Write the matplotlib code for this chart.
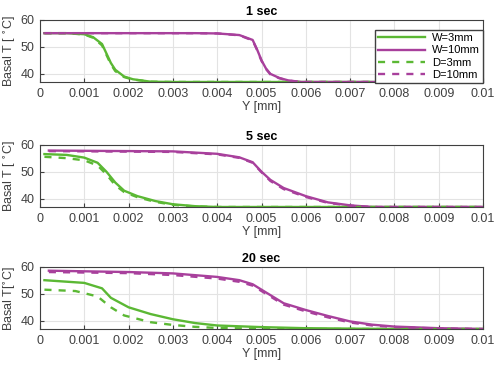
import matplotlib

matplotlib.use("Agg")
import matplotlib.pyplot as plt

plt.rcParams["font.family"] = ["Liberation Sans", "DejaVu Sans"]

GREEN = "#5bb834"
MAGENTA = "#a8409c"

# 1 sec
y_1s_w3 = [0.0001, 0.0006, 0.001, 0.0012, 0.0014, 0.0015, 0.0016, 0.0017, 0.0019, 0.0021, 0.0025, 0.003, 0.01]
t_1s_w3 = [55.0, 55.0, 54.6, 53.5, 51.0, 47.5, 44.0, 41.5, 39.0, 38.0, 37.1, 37.0, 37.0]
y_1s_d3 = [0.0001, 0.0006, 0.001, 0.0012, 0.0014, 0.0015, 0.0016, 0.0017, 0.0019, 0.0021, 0.0025, 0.003, 0.01]
t_1s_d3 = [55.0, 55.0, 54.5, 53.3, 50.5, 47.0, 43.5, 41.0, 38.8, 37.9, 37.1, 37.0, 37.0]
y_1s_w10 = [0.0001, 0.0035, 0.004, 0.0045, 0.0048, 0.0049, 0.005, 0.0051, 0.0052, 0.0054, 0.0056, 0.0059, 0.01]
t_1s_w10 = [55.0, 55.0, 54.9, 54.3, 52.5, 49.0, 45.0, 42.0, 40.0, 38.5, 37.6, 37.0, 37.0]
y_1s_d10 = [0.0001, 0.0035, 0.004, 0.0045, 0.0048, 0.0049, 0.005, 0.0051, 0.0052, 0.0054, 0.0056, 0.0059, 0.01]
t_1s_d10 = [55.0, 55.0, 54.9, 54.2, 52.3, 48.8, 44.8, 41.8, 39.8, 38.4, 37.5, 37.0, 37.0]

# 5 sec
y_5s_w3 = [0.0001, 0.0006, 0.001, 0.0013, 0.0015, 0.0017, 0.0019, 0.0022, 0.0026, 0.003, 0.0035, 0.004, 0.01]
t_5s_w3 = [56.5, 56.2, 55.2, 53.3, 50.0, 46.0, 43.0, 41.0, 39.2, 38.0, 37.3, 37.0, 37.0]
y_5s_d3 = [0.0001, 0.0006, 0.001, 0.0013, 0.0015, 0.0017, 0.0019, 0.0022, 0.0026, 0.003, 0.0035, 0.004, 0.01]
t_5s_d3 = [55.5, 55.0, 54.2, 52.3, 49.0, 45.0, 42.5, 40.6, 38.9, 37.8, 37.2, 37.0, 37.0]
y_5s_w10 = [0.0002, 0.003, 0.004, 0.0045, 0.0048, 0.005, 0.0052, 0.0055, 0.006, 0.0065, 0.007, 0.0075, 0.01]
t_5s_w10 = [57.8, 57.5, 56.6, 55.3, 53.5, 50.0, 47.0, 44.0, 41.0, 38.7, 37.6, 37.0, 37.0]
y_5s_d10 = [0.0002, 0.003, 0.004, 0.0045, 0.0048, 0.005, 0.0052, 0.0055, 0.006, 0.0065, 0.007, 0.0075, 0.01]
t_5s_d10 = [57.6, 57.3, 56.4, 55.1, 53.3, 49.8, 46.6, 43.6, 40.7, 38.5, 37.5, 37.0, 37.0]

# 20 sec
y_20s_w3 = [0.0001, 0.001, 0.0014, 0.0016, 0.002, 0.0025, 0.003, 0.0035, 0.004, 0.005, 0.006, 0.008, 0.01]
t_20s_w3 = [55.0, 54.0, 52.0, 48.5, 45.0, 42.5, 40.6, 39.2, 38.3, 37.7, 37.3, 37.0, 37.0]
y_20s_d3 = [0.0001, 0.0008, 0.0013, 0.0016, 0.0019, 0.0025, 0.003, 0.0035, 0.004, 0.005, 0.006, 0.008, 0.01]
t_20s_d3 = [51.5, 51.0, 49.0, 45.0, 42.0, 39.5, 38.5, 37.8, 37.4, 37.1, 37.0, 37.0, 37.0]
y_20s_w10 = [0.0002, 0.002, 0.003, 0.004, 0.0045, 0.0048, 0.0052, 0.0055, 0.006, 0.0065, 0.007, 0.0075, 0.008, 0.009, 0.01]
t_20s_w10 = [58.5, 58.0, 57.5, 56.2, 55.0, 53.5, 49.5, 46.5, 44.0, 41.8, 39.8, 38.6, 37.9, 37.3, 37.0]
y_20s_d10 = [0.0002, 0.002, 0.003, 0.004, 0.0045, 0.0048, 0.0052, 0.0055, 0.006, 0.0065, 0.007, 0.0075, 0.008, 0.009, 0.01]
t_20s_d10 = [58.0, 57.6, 56.9, 55.6, 54.4, 53.0, 49.0, 46.0, 43.5, 41.3, 39.4, 38.3, 37.7, 37.2, 37.0]

titles = ["1 sec", "5 sec", "20 sec"]
ylabels = ["Basal T [ $^{\\circ}$C]", "Basal T [ $^{\\circ}$C]", "Basal T[$^{\\circ}$C]"]
x_ticks = [0, 0.001, 0.002, 0.003, 0.004, 0.005, 0.006, 0.007, 0.008, 0.009, 0.01]
x_ticklabels = ["0", "0.001", "0.002", "0.003", "0.004", "0.005", "0.006", "0.007", "0.008", "0.009", "0.01"]
y_ticks = [40, 50, 60]

panels = [
    (y_1s_w3, t_1s_w3, y_1s_w10, t_1s_w10, y_1s_d3, t_1s_d3, y_1s_d10, t_1s_d10),
    (y_5s_w3, t_5s_w3, y_5s_w10, t_5s_w10, y_5s_d3, t_5s_d3, y_5s_d10, t_5s_d10),
    (y_20s_w3, t_20s_w3, y_20s_w10, t_20s_w10, y_20s_d3, t_20s_d3, y_20s_d10, t_20s_d10),
]
bottoms = [0.7766, 0.436, 0.1035]

fig = plt.figure(figsize=(5.0, 3.67), dpi=100)
for index, (data, bottom) in enumerate(zip(panels, bottoms)):
    ax = fig.add_axes([0.08, bottom, 0.886, 0.17])
    yw3, tw3, yw10, tw10, yd3, td3, yd10, td10 = data
    ax.plot(yw3, tw3, color=GREEN, lw=1.7, label="W=3mm")
    ax.plot(yw10, tw10, color=MAGENTA, lw=1.7, label="W=10mm")
    ax.plot(yd3, td3, color=GREEN, lw=1.7, ls=(0, (3, 3)), label="D=3mm")
    ax.plot(yd10, td10, color=MAGENTA, lw=1.7, ls=(0, (3, 3)), label="D=10mm")
    ax.set_xlim(0, 0.01)
    ax.set_ylim(37, 60)
    ax.set_xticks(x_ticks)
    ax.set_xticklabels(x_ticklabels)
    ax.set_yticks(y_ticks)
    ax.grid(True, color="#e3e3e3", lw=0.8)
    ax.set_axisbelow(True)
    ax.tick_params(direction="in", labelsize=9, colors="#404040", length=3, pad=4)
    for spine in ax.spines.values():
        spine.set_color("#404040")
        spine.set_linewidth(0.8)
    ax.set_title(titles[index], fontsize=9, fontweight="bold", pad=3)
    ax.set_xlabel("Y [mm]", fontsize=9, color="#404040", labelpad=1)
    ax.set_ylabel(ylabels[index], fontsize=9, color="#404040", labelpad=2)
    if index == 0:
        ax.legend(loc="lower right", bbox_to_anchor=(1.0, -0.02), fontsize=8,
                  frameon=True, fancybox=False, edgecolor="#404040",
                  handlelength=4.2, borderpad=0.3, labelspacing=0.2,
                  handletextpad=0.6, borderaxespad=0, framealpha=1)

fig.savefig("out.png", dpi=100)
